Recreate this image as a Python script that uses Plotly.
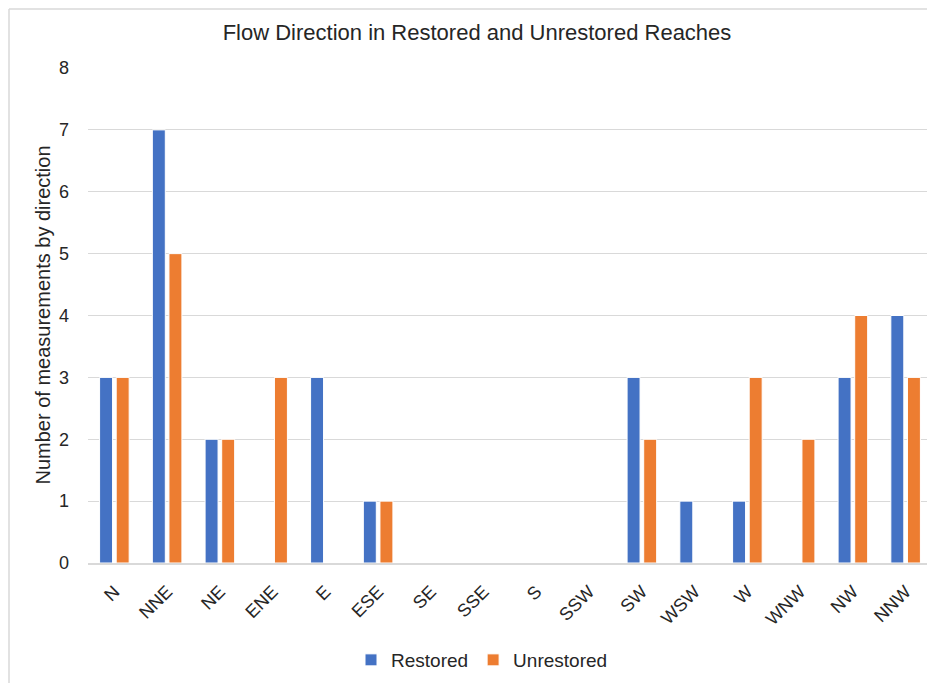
import plotly.graph_objects as go

# Datos
directions = ['N', 'NNE', 'NE', 'ENE', 'E', 'ESE', 'SE', 'SSE', 'S', 'SSW',
              'SW', 'WSW', 'W', 'WNW', 'NW', 'NNW']
restored = [3, 7, 2, 0, 3, 1, 0, 0, 0, 0, 3, 1, 1, 0, 3, 4]
unrestored = [3, 5, 2, 3, 0, 1, 0, 0, 0, 0, 2, 0, 3, 2, 4, 3]

FONT = "Liberation Sans"
W, H = 935, 683
OFF = 8  # margen del body de la página
L, R, T, B = 88 - OFF, 11, 68 - OFF, 128

fig = go.Figure()
fig.add_trace(go.Bar(x=directions, y=restored, name='Restored',
                     marker=dict(color='#4472C4', line=dict(color='white', width=1))))
fig.add_trace(go.Bar(x=directions, y=unrestored, name='Unrestored',
                     marker=dict(color='#ED7D31', line=dict(color='white', width=1))))

pw = W - L - R
ph = H - T - B

fig.update_layout(
    width=W, height=H,
    margin=dict(l=L, r=R, t=T, b=B, autoexpand=False),
    paper_bgcolor='white', plot_bgcolor='white',
    barmode='group', bargap=0.37, bargroupgap=0.22,
    font=dict(family=FONT, color='#404040'),
    title=dict(text='Flow Direction in Restored and Unrestored Reaches',
               xref='paper', x=(477 - 88) / pw, xanchor='center',
               yref='container', y=1 - (32 - OFF) / H, yanchor='middle',
               font=dict(size=22, color='#262626')),
    legend=dict(orientation='h', xref='container', x=(482 - OFF) / W, xanchor='center',
                yref='container', y=1 - (660 - OFF) / H, yanchor='middle',
                font=dict(size=19, color='#262626'), itemwidth=30),
    showlegend=True,
)

fig.update_yaxes(range=[0, 8], dtick=1, showgrid=True, gridcolor='#d9d9d9',
                 gridwidth=1, zeroline=False, showline=False,
                 tickfont=dict(size=18, color='#262626'), ticklabelstandoff=18)
fig.update_xaxes(showline=True, linecolor='#d9d9d9', linewidth=2,
                 tickangle=-45, tickfont=dict(size=18, color='#262626'),
                 ticklabelstandoff=9)

# Título del eje Y
fig.add_annotation(text='Number of measurements by direction', textangle=-90,
                   xref='paper', yref='paper', x=(42 - 88) / pw, y=0.5,
                   xanchor='center', yanchor='middle', showarrow=False,
                   font=dict(size=20, color='#262626'))

# Marco del área del gráfico (bordes superior e izquierdo visibles)
top = (H - B - 1) / ph
left = (1 - L) / pw
fig.add_shape(type='line', xref='paper', yref='paper',
              x0=left, x1=1.2, y0=top, y1=top,
              line=dict(color='#d9d9d9', width=1.5))
fig.add_shape(type='line', xref='paper', yref='paper',
              x0=left, x1=left, y0=-0.5, y1=top,
              line=dict(color='#d9d9d9', width=1.5))

fig.write_html("out.html")
